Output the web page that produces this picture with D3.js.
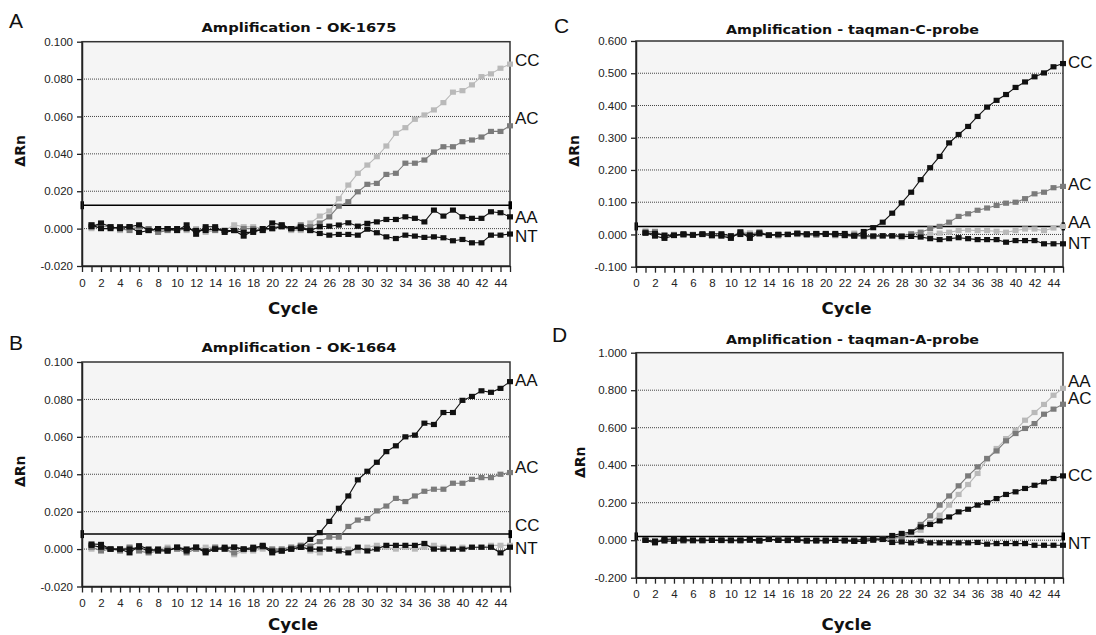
<!DOCTYPE html>
<html><head><meta charset="utf-8">
<script src="https://cdn.jsdelivr.net/npm/d3@7/dist/d3.min.js"></script>
<style>
html,body{margin:0;padding:0;background:#fff;}
svg{display:block;}
</style></head>
<body>
<svg id="chart" width="1096" height="635"></svg>
<script>
// ---------- DATA ----------
const cycles = d3.range(1, 46);
const xTicks = d3.range(0, 46);
const xTickLabels = d3.range(0, 45, 2);

// Panel A: OK-1675
const A_CC = [0.000,0.001,0.001,-0.001,0.000,0.001,0.000,-0.001,-0.001,0.000,-0.001,0.000,-0.002,-0.001,-0.001,0.002,0.001,0.001,0.000,0.000,0.001,-0.001,-0.001,0.003,0.0067,0.0094,0.016,0.0233,0.0296,0.034,0.0385,0.0442,0.051,0.054,0.0585,0.0608,0.0635,0.0674,0.073,0.0738,0.0769,0.0813,0.0828,0.0858,0.0880];
const A_AC = [0.002,0.0015,0.001,0.000,-0.001,0.001,0.000,-0.002,-0.001,-0.001,0.000,-0.001,0.000,-0.001,-0.001,-0.001,0.000,0.000,-0.001,0.000,0.002,0.000,0.002,0.001,0.003,0.0063,0.012,0.0144,0.0197,0.0237,0.0242,0.029,0.0296,0.035,0.035,0.0367,0.041,0.0438,0.0438,0.0465,0.0474,0.049,0.052,0.052,0.055];
const A_AA = [0.001,0.003,0.001,0.000,0.001,-0.002,-0.001,0.000,0.000,-0.001,0.002,-0.003,0.001,0.001,-0.002,-0.001,-0.004,-0.001,-0.001,0.003,0.002,0.000,0.000,-0.001,0.0010,0.0013,0.0019,0.0031,0.0013,0.0028,0.0036,0.0049,0.0049,0.0063,0.0055,0.0036,0.0099,0.0067,0.0099,0.0063,0.0055,0.0055,0.009,0.0085,0.0063];
const A_NT = [0.002,0.000,0.000,0.001,0.001,0.002,-0.001,0.000,0.000,0.000,0.000,-0.001,-0.001,0.000,-0.001,-0.001,-0.002,-0.002,0.000,0.000,0.001,0.000,0.001,-0.001,-0.0026,-0.0035,-0.0031,-0.0031,-0.0035,-0.0003,-0.0022,-0.0044,-0.0053,-0.0035,-0.004,-0.0047,-0.0044,-0.0049,-0.0065,-0.0058,-0.0076,-0.0076,-0.0035,-0.0035,-0.0029];
const A_yTicks = [-0.02,0,0.02,0.04,0.06,0.08,0.1];
const A_threshold = 0.0125;

// Panel B: OK-1664
const B_AA = [0.0027,0.0025,0.000,0.000,-0.002,0.0018,0.000,-0.001,-0.001,0.001,-0.001,0.001,-0.002,0.000,0.000,0.001,0.000,0.001,0.0015,-0.002,-0.001,0.000,0.001,0.0052,0.0088,0.0148,0.0218,0.0284,0.037,0.0416,0.0464,0.0521,0.0552,0.060,0.0609,0.0673,0.0666,0.073,0.073,0.0795,0.0816,0.0846,0.0838,0.0859,0.0895];
const B_AC = [0.001,-0.001,0.000,-0.001,0.001,-0.001,-0.002,-0.001,0.000,0.000,-0.002,0.000,-0.001,0.001,0.000,-0.002,0.000,0.000,0.001,0.000,0.000,0.001,0.002,0.0016,0.004,0.0064,0.0064,0.0121,0.0155,0.0163,0.0204,0.023,0.0271,0.0254,0.0284,0.0309,0.032,0.032,0.0352,0.0352,0.0373,0.0382,0.0382,0.040,0.0409];
const B_CC = [0.000,0.001,0.000,0.000,0.001,0.000,-0.001,0.000,0.001,0.000,0.000,0.000,0.001,0.001,0.000,-0.003,-0.001,-0.001,0.000,0.000,0.000,0.001,0.002,-0.001,-0.002,0.000,0.000,0.000,-0.001,0.001,0.002,0.001,0.000,0.001,0.000,0.001,0.002,0.001,0.000,0.001,0.001,0.001,0.002,0.002,0.002];
const B_NT = [0.002,0.001,0.000,0.000,0.000,0.001,-0.001,0.000,-0.001,0.001,0.000,0.001,-0.001,0.000,0.001,0.001,0.000,0.000,0.002,-0.001,-0.001,0.000,0.001,0.000,0.000,0.000,-0.001,-0.002,0.001,-0.001,0.000,0.002,0.002,0.002,0.002,0.003,0.000,0.000,0.000,0.000,0.001,0.001,0.001,-0.002,0.001];
const B_yTicks = [-0.02,0,0.02,0.04,0.06,0.08,0.1];
const B_threshold = 0.008;

// Panel C: taqman-C-probe
const C_CC = [0.005,-0.005,-0.012,-0.003,0.000,-0.002,0.000,-0.003,-0.005,-0.012,0.008,-0.012,0.005,-0.002,0.000,0.000,0.004,0.000,0.003,0.003,0.000,-0.003,-0.005,0.009,0.021,0.038,0.066,0.098,0.131,0.170,0.207,0.242,0.284,0.310,0.335,0.366,0.395,0.416,0.434,0.456,0.473,0.489,0.501,0.520,0.530];
const C_AC = [0.010,0.008,-0.005,0.000,-0.002,0.000,0.000,-0.005,-0.002,-0.008,0.005,0.000,0.008,-0.002,-0.004,0.000,0.000,-0.002,-0.002,0.002,-0.002,-0.004,0.000,-0.005,-0.005,-0.005,-0.005,-0.004,0.002,0.007,0.018,0.025,0.038,0.056,0.064,0.075,0.082,0.090,0.097,0.100,0.111,0.126,0.131,0.145,0.149];
const C_AA = [0.008,0.010,-0.004,-0.004,-0.002,0.000,0.000,0.000,-0.004,-0.006,0.008,0.005,0.002,-0.004,0.000,0.000,0.000,0.000,0.000,0.002,-0.004,-0.002,0.004,-0.008,-0.008,-0.005,-0.005,-0.010,-0.006,-0.004,0.000,0.004,0.007,0.012,0.014,0.012,0.012,0.010,0.007,0.012,0.017,0.017,0.012,0.020,0.025];
const C_NT = [0.004,0.003,-0.002,-0.003,0.002,-0.002,0.002,0.002,0.002,-0.004,0.000,-0.002,0.002,-0.002,0.000,0.000,0.003,0.002,0.002,0.000,0.003,0.003,-0.004,-0.005,-0.005,-0.004,-0.004,-0.006,-0.006,-0.008,-0.013,-0.016,-0.013,-0.010,-0.013,-0.016,-0.016,-0.016,-0.024,-0.019,-0.019,-0.019,-0.029,-0.029,-0.029];
const C_yTicks = [-0.1,0,0.1,0.2,0.3,0.4,0.5,0.6];
const C_threshold = 0.025;

// Panel D: taqman-A-probe
const D_AA = [0.000,-0.002,0.000,0.000,-0.004,-0.004,-0.004,0.000,-0.004,0.000,-0.004,0.000,-0.006,0.006,0.004,-0.004,0.000,-0.004,-0.004,-0.004,0.000,-0.002,-0.004,-0.004,0.000,0.004,0.005,0.015,0.035,0.053,0.094,0.133,0.187,0.244,0.297,0.356,0.432,0.489,0.542,0.587,0.640,0.681,0.724,0.773,0.810];
const D_AC = [0.000,-0.004,0.004,0.004,-0.004,-0.004,-0.004,0.000,0.000,-0.004,-0.004,0.004,0.000,0.004,0.004,0.000,0.004,-0.004,0.000,0.000,0.000,0.000,0.004,0.000,0.004,0.006,0.010,0.020,0.044,0.084,0.130,0.187,0.236,0.290,0.343,0.391,0.436,0.476,0.530,0.569,0.596,0.622,0.672,0.699,0.725];
const D_CC = [0.000,-0.014,0.004,0.008,0.004,0.000,0.000,0.000,0.000,0.000,0.000,0.006,0.000,0.006,0.000,0.000,0.004,0.000,-0.004,0.000,0.000,0.000,-0.004,0.006,0.008,0.006,0.025,0.036,0.044,0.071,0.084,0.103,0.124,0.151,0.165,0.187,0.200,0.222,0.244,0.258,0.276,0.293,0.311,0.329,0.343];
const D_NT = [0.000,-0.006,-0.004,-0.006,0.000,0.000,0.000,0.000,0.000,0.000,0.000,0.000,-0.004,0.004,0.000,0.000,0.000,-0.004,0.000,-0.004,0.000,-0.004,-0.006,-0.006,0.000,0.004,-0.012,-0.009,-0.014,-0.005,-0.014,-0.014,-0.014,-0.014,-0.014,-0.012,-0.021,-0.018,-0.018,-0.018,-0.018,-0.027,-0.027,-0.027,-0.027];
const D_yTicks = [-0.2,0,0.2,0.4,0.6,0.8,1.0];
const D_threshold = 0.02;

// ---------- STYLE / LAYOUT ----------
const LIGHT = "#b9b9b9", DARK = "#7b7b7b", BLACK = "#111";

const panels = [
  {letter:"A", title:"Amplification - OK-1675", yTicks:A_yTicks, threshold:A_threshold,
   box:{l:82,r:510,t:41.7,b:266}, letterPos:[9,28], titleY:28, titleW:195, cycleY:309, ylabX:20,
   series:[{n:"CC",v:A_CC,c:LIGHT},{n:"AC",v:A_AC,c:DARK},{n:"NT",v:A_NT,c:BLACK},{n:"AA",v:A_AA,c:BLACK}],
   labels:[["CC",0.0903],["AC",0.0592],["AA",0.0062],["NT",-0.004]]},
  {letter:"B", title:"Amplification - OK-1664", yTicks:B_yTicks, threshold:B_threshold,
   box:{l:82,r:510,t:362,b:586.5}, letterPos:[9,350], titleY:348, titleW:195, cycleY:625, ylabX:20,
   series:[{n:"CC",v:B_CC,c:LIGHT},{n:"AC",v:B_AC,c:DARK},{n:"NT",v:B_NT,c:BLACK},{n:"AA",v:B_AA,c:BLACK}],
   labels:[["AA",0.0906],["AC",0.0441],["CC",0.0131],["NT",0.0008]]},
  {letter:"C", title:"Amplification - taqman-C-probe", yTicks:C_yTicks, threshold:C_threshold,
   box:{l:636,r:1063,t:41,b:266.7}, letterPos:[554,33], titleY:30, titleW:253, cycleY:309, ylabX:574,
   series:[{n:"AA",v:C_AA,c:LIGHT},{n:"AC",v:C_AC,c:DARK},{n:"NT",v:C_NT,c:BLACK},{n:"CC",v:C_CC,c:BLACK}],
   labels:[["CC",0.534],["AC",0.158],["AA",0.040],["NT",-0.025]]},
  {letter:"D", title:"Amplification - taqman-A-probe", yTicks:D_yTicks, threshold:D_threshold,
   box:{l:636,r:1063,t:352.7,b:577.7}, letterPos:[552,342], titleY:340, titleW:253, cycleY:625, ylabX:580,
   series:[{n:"AA",v:D_AA,c:LIGHT},{n:"AC",v:D_AC,c:DARK},{n:"NT",v:D_NT,c:BLACK},{n:"CC",v:D_CC,c:BLACK}],
   labels:[["AA",0.848],["AC",0.757],["CC",0.347],["NT",-0.016]]}
];

const svg = d3.select("#chart");
const fmt = d => d.toFixed(3);

panels.forEach(p => {
  const B = p.box;
  const x = d3.scaleLinear().domain([0,45]).range([B.l,B.r]);
  const y = d3.scaleLinear().domain([p.yTicks[0], p.yTicks[p.yTicks.length-1]]).range([B.b,B.t]);
  const g = svg.append("g");

  g.append("rect").attr("x",B.l).attr("y",B.t).attr("width",B.r-B.l).attr("height",B.b-B.t)
    .attr("fill","#f5f5f5");

  g.selectAll(".grid").data(p.yTicks.slice(1,-1)).enter().append("line")
    .attr("x1",B.l).attr("x2",B.r).attr("y1",d=>y(d)).attr("y2",d=>y(d))
    .attr("stroke","#444").attr("stroke-width",1).attr("stroke-dasharray","1,1");

  g.append("rect").attr("x",B.l).attr("y",B.t).attr("width",B.r-B.l).attr("height",B.b-B.t)
    .attr("fill","none").attr("stroke","#333").attr("stroke-width",1.5);

  g.append("line").attr("x1",x(0)).attr("x2",x(45)).attr("y1",y(p.threshold)).attr("y2",y(p.threshold))
    .attr("stroke","#000").attr("stroke-width",1.5);
  g.selectAll(".thm").data([0,45]).enter().append("rect")
    .attr("x",d=>x(d)-1.5).attr("y",y(p.threshold)-4).attr("width",3.5).attr("height",8).attr("fill","#000");

  const line = d3.line().x((d,i)=>x(cycles[i])).y(d=>y(d));
  p.series.forEach(s => {
    g.append("path").datum(s.v).attr("d",line).attr("fill","none")
      .attr("stroke",s.c).attr("stroke-width",1.1);
    g.selectAll(null).data(s.v).enter().append("rect")
      .attr("x",(d,i)=>x(cycles[i])-3).attr("y",d=>y(d)-2.6)
      .attr("width",6).attr("height",5.2).attr("fill",s.c);
  });

  const yAxis = d3.axisLeft(y).tickValues(p.yTicks).tickFormat(fmt).tickSize(5).tickSizeOuter(0);
  const ya = g.append("g").attr("transform",`translate(${B.l},0)`).call(yAxis);
  ya.select(".domain").attr("stroke","#222").attr("stroke-width",1.5);
  ya.selectAll(".tick line").attr("stroke","#222").attr("stroke-width",1.3);
  ya.selectAll("text").attr("font-family","'Liberation Sans', Arial, sans-serif")
    .attr("font-size","11.5px").attr("fill","#222").attr("dx","-1");

  const xAxis = d3.axisBottom(x).tickValues(xTicks)
    .tickFormat(d => xTickLabels.includes(d) ? String(d) : "").tickSize(6).tickSizeOuter(0);
  const xa = g.append("g").attr("transform",`translate(0,${B.b})`).call(xAxis);
  xa.select(".domain").attr("stroke","#222").attr("stroke-width",1.5);
  xa.selectAll(".tick line").attr("stroke","#222").attr("stroke-width",1.3);
  xa.selectAll("text").attr("font-family","'Liberation Sans', Arial, sans-serif")
    .attr("font-size","11.5px").attr("fill","#222").attr("dy","1.0em");

  g.append("text").attr("x",(B.l+B.r)/2+3).attr("y",p.titleY).attr("dy","0.35em")
    .attr("text-anchor","middle").attr("font-family","'DejaVu Sans', sans-serif")
    .attr("font-weight","bold").attr("font-size","12.5px").attr("fill","#111")
    .attr("textLength",p.titleW).attr("lengthAdjust","spacingAndGlyphs").text(p.title);

  g.append("text").attr("x",(B.l+B.r)/2-3).attr("y",p.cycleY).attr("dy","0.35em")
    .attr("text-anchor","middle").attr("font-family","'DejaVu Sans', sans-serif")
    .attr("font-weight","bold").attr("font-size","15px").attr("fill","#111")
    .attr("textLength",50).attr("lengthAdjust","spacingAndGlyphs").text("Cycle");

  g.append("text").attr("transform",`translate(${p.ylabX},${(B.t+B.b)/2-3}) rotate(-90)`)
    .attr("dy","0.35em").attr("text-anchor","middle").attr("font-family","'DejaVu Sans', sans-serif")
    .attr("font-weight","bold").attr("font-size","14px").attr("fill","#111").text("ΔRn");

  g.append("text").attr("x",p.letterPos[0]).attr("y",p.letterPos[1])
    .attr("font-family","'Liberation Sans', Arial, sans-serif").attr("font-size","21px")
    .attr("fill","#111").text(p.letter);

  g.selectAll(null).data(p.labels).enter().append("text")
    .attr("x",B.r+5).attr("y",d=>y(d[1])).attr("dy","0.36em")
    .attr("font-family","'Liberation Sans', Arial, sans-serif").attr("font-size","17px")
    .attr("fill","#111").text(d=>d[0]);
});
</script>
</body></html>
